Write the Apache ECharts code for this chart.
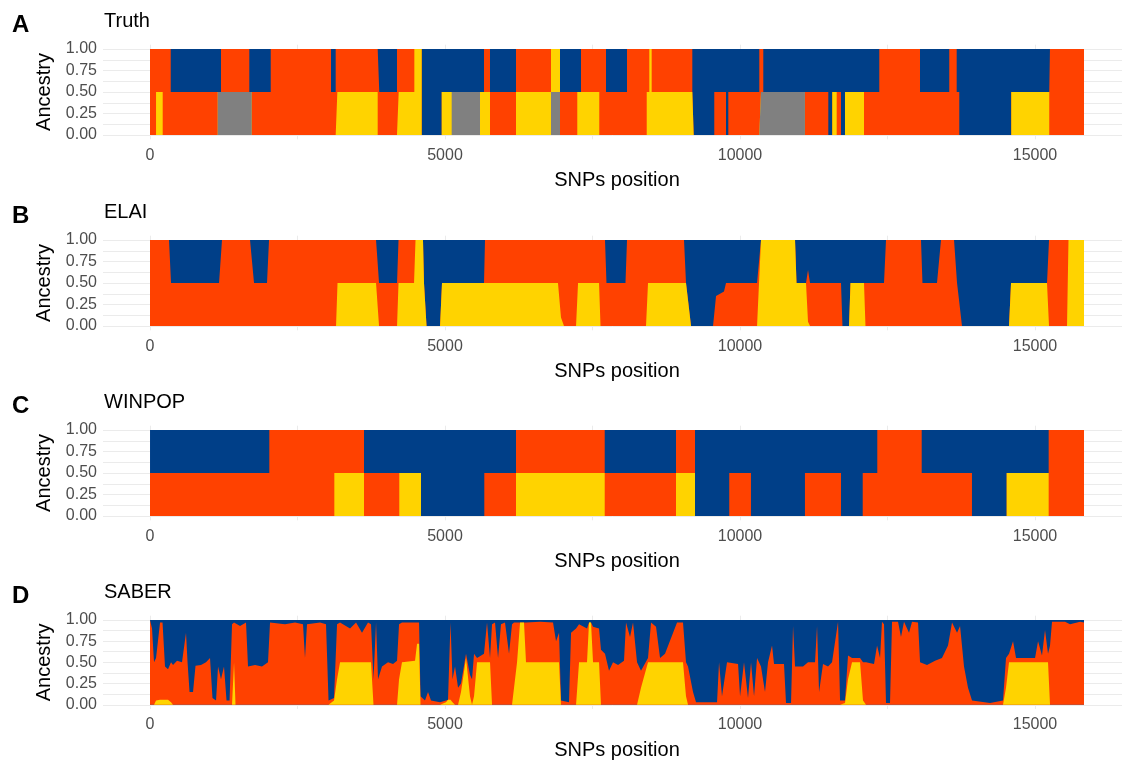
<!DOCTYPE html>
<html>
<head>
<meta charset="utf-8">
<title>Local ancestry along SNP positions</title>
<script src="https://cdn.jsdelivr.net/npm/echarts@6/dist/echarts.min.js"></script>
<style>
  html, body { margin: 0; padding: 0; background: #ffffff; }
  #chart { width: 1122px; height: 761px; }
</style>
</head>
<body>
<div id="chart"></div>
<script>
// ---------------------------------------------------------------------------
// Data
// ---------------------------------------------------------------------------
const seqEnd = 15831; // last SNP position

// Truth: two haplotype tracks, ancestry code per segment start
// codes: B = blue, R = red, Y = yellow, G = gray
const truthUpperStart = [0, 351, 1203, 1683, 2046, 3068, 3147, 3886, 4186, 4480, 4605, 5661, 5763, 6203, 6797, 6949, 7305, 7729, 8085, 8463, 8503, 9192, 10327, 10395, 12361, 13051, 13547, 13673, 15254];
const truthUpperAnc   = ['R','B','R','B','R','B','R','B','R','Y','B','R','B','R','Y','B','R','B','R','Y','R','B','R','B','R','B','R','B','R'];
const truthLowerStart = [0, 102, 215, 1147, 1724, 3175, 3859, 4215, 4605, 4944, 5113, 5593, 5763, 6203, 6797, 6949, 7242, 7615, 8419, 9215, 9564, 9763, 9802, 10356, 11101, 11497, 11564, 11639, 11712, 11780, 12102, 13717, 14598, 15242];
const truthLowerAnc   = ['R','Y','R','G','R','Y','R','Y','B','Y','G','Y','R','Y','G','R','Y','R','Y','B','R','B','R','G','R','B','Y','R','B','Y','R','B','Y','R'];

// WINPOP: two haplotype tracks
const winpopUpperStart = [0, 2022, 3627, 6203, 7707, 8915, 9237, 12327, 13080, 15232];
const winpopUpperAnc   = ['B','R','B','R','B','R','B','R','B','R'];
const winpopLowerStart = [0, 3124, 3627, 4225, 4593, 5666, 6203, 7707, 8915, 9237, 9818, 10186, 11101, 11712, 12080, 13932, 14520, 15232];
const winpopLowerAnc   = ['R','Y','R','Y','B','R','Y','R','Y','B','R','B','R','B','R','B','Y','R'];

// ELAI: estimated ancestry proportions (blue is the remainder)
const elaiPos = [0, 322, 356, 1170, 1220, 1695, 1763, 1983, 2017, 3153,
  3178, 3831, 3882, 4187, 4212, 4475, 4500, 4627, 4644, 4687,
  4916, 4949, 5661, 5678, 6915, 6966, 7017, 7221, 7255, 7611,
  7636, 7712, 7737, 8059, 8085, 8407, 8441, 9051, 9085, 9170,
  9543, 9594, 9729, 9763, 10289, 10356, 10933, 10958, 11119, 11153,
  11187, 11712, 11737, 11848, 11873, 12102, 12127, 12441, 12475, 13068,
  13093, 13339, 13407, 13628, 13679, 13713, 13763, 14560, 14594, 15204,
  15238, 15543, 15568, 15831];
const elaiYellow = [0, 0, 0, 0, 0, 0, 0, 0, 0, 0,
  0.5, 0.5, 0, 0, 0.5, 0.5, 1, 1, 0.5, 0,
  0, 0.5, 0.5, 0.5, 0.5, 0.1, 0, 0, 0.5, 0.5,
  0, 0, 0, 0, 0, 0, 0.5, 0.5, 0.5, 0,
  0, 0, 0, 0, 0, 1, 1, 0.5, 0.5, 0.05,
  0, 0, 0, 0, 0.5, 0.5, 0, 0, 0, 0,
  0, 0, 0, 0, 0, 0, 0, 0, 0.5, 0.5,
  0, 0, 1, 1];
const elaiRed = [1, 1, 0.5, 0.5, 1, 1, 0.5, 0.5, 1, 1,
  0.5, 0.5, 0.5, 0.5, 0.5, 0.5, 0, 0, 0, 0,
  0, 0, 0, 0.5, 0.5, 0.9, 1, 1, 0.5, 0.5,
  1, 1, 0.5, 0.5, 1, 1, 0.5, 0.5, 0, 0,
  0, 0.35, 0.4, 0.5, 0.5, 0, 0, 0, 0, 0.6,
  0.5, 0.5, 0, 0, 0, 0, 0.5, 0.5, 1, 1,
  0.5, 0.5, 1, 1, 0.5, 0.3, 0, 0, 0, 0,
  1, 1, 0, 0];

// SABER: estimated ancestry proportions (blue is the remainder)
const saberPos = [0, 34, 68, 102, 170, 212, 254, 305, 356, 390,
  458, 542, 610, 636, 670, 729, 771, 864, 949, 1017,
  1059, 1119, 1153, 1203, 1254, 1297, 1348, 1390, 1424, 1449,
  1526, 1627, 1661, 1780, 1898, 2000, 2034, 2288, 2458, 2593,
  2627, 2661, 2882, 2983, 3026, 3119, 3170, 3221, 3390, 3492,
  3593, 3695, 3746, 3788, 3831, 3865, 3932, 4034, 4119, 4187,
  4221, 4271, 4492, 4526, 4560, 4585, 4661, 4712, 4763, 4916,
  5017, 5051, 5093, 5127, 5170, 5221, 5271, 5356, 5424, 5458,
  5492, 5543, 5661, 5712, 5763, 5797, 5848, 5899, 5949, 6017,
  6085, 6136, 6170, 6221, 6272, 6339, 6373, 6611, 6831, 6882,
  6933, 6966, 7102, 7136, 7221, 7272, 7407, 7441, 7475, 7509,
  7611, 7644, 7712, 7780, 7848, 7933, 8034, 8068, 8136, 8187,
  8255, 8322, 8441, 8492, 8577, 8645, 8729, 8933, 9034, 9085,
  9119, 9204, 9255, 9611, 9645, 9695, 9780, 9967, 10001, 10068,
  10136, 10187, 10238, 10289, 10356, 10424, 10475, 10543, 10577, 10746,
  10780, 10865, 10899, 10933, 11068, 11153, 11272, 11306, 11340, 11407,
  11492, 11560, 11662, 11696, 11780, 11831, 11899, 12035, 12085, 12136,
  12272, 12323, 12374, 12407, 12441, 12475, 12543, 12577, 12679, 12729,
  12780, 12865, 12916, 13018, 13052, 13170, 13306, 13424, 13526, 13594,
  13679, 13730, 13797, 13865, 13933, 14238, 14458, 14509, 14560, 14628,
  14679, 15001, 15052, 15119, 15170, 15221, 15255, 15289, 15509, 15594,
  15764, 15831];
const saberYellow = [0, 0, 0, 0.05, 0.06, 0.06, 0.06, 0.06, 0.03, 0,
  0, 0, 0, 0, 0, 0, 0, 0, 0, 0,
  0, 0, 0, 0, 0, 0, 0, 0, 0.5, 0,
  0, 0, 0, 0, 0, 0, 0, 0, 0, 0,
  0, 0, 0, 0, 0, 0.05, 0.3, 0.5, 0.5, 0.5,
  0.5, 0.5, 0.5, 0, 0, 0, 0, 0, 0, 0,
  0.3, 0.5, 0.52, 0.72, 0.72, 0, 0, 0, 0, 0,
  0.03, 0.06, 0.06, 0.03, 0, 0, 0.15, 0.55, 0.1, 0,
  0.1, 0.5, 0.5, 0.5, 0.5, 0, 0, 0, 0, 0,
  0, 0, 0.2, 0.5, 0.97, 0.97, 0.5, 0.5, 0.5, 0.5,
  0.5, 0, 0, 0, 0, 0.5, 0.5, 0.97, 0.97, 0.5,
  0.5, 0, 0, 0, 0, 0, 0, 0, 0, 0,
  0, 0.2, 0.5, 0.5, 0.5, 0.5, 0.5, 0.5, 0.5, 0.1,
  0, 0, 0, 0, 0, 0, 0, 0, 0, 0,
  0, 0, 0, 0, 0, 0, 0, 0, 0, 0,
  0, 0, 0, 0, 0, 0, 0, 0, 0, 0,
  0, 0, 0, 0, 0.02, 0.3, 0.5, 0.5, 0.05, 0,
  0, 0, 0, 0, 0, 0, 0, 0, 0, 0,
  0, 0, 0, 0, 0, 0, 0, 0, 0, 0,
  0, 0, 0, 0, 0, 0, 0, 0.2, 0.5, 0.5,
  0.5, 0.5, 0.5, 0.5, 0.5, 0.5, 0, 0, 0, 0,
  0, 0];
const saberRed = [1.00, 0.90, 0.50, 0.50, 0.91, 0.91, 0.39, 0.36, 0.47, 0.47,
  0.52, 0.50, 0.85, 0.50, 0.15, 0.15, 0.46, 0.47, 0.50, 0.55,
  0.08, 0.05, 0.45, 0.30, 0.45, 0.05, 0.05, 0.95, 0.47, 0.97,
  0.93, 0.97, 0.45, 0.47, 0.45, 0.50, 0.97, 0.95, 0.97, 0.95,
  0.55, 0.95, 0.97, 0.95, 0.05, 0.03, 0.65, 0.47, 0.40, 0.47,
  0.35, 0.47, 0.45, 0.30, 0.97, 0.30, 0.45, 0.50, 0.48, 0.52,
  0.65, 0.47, 0.45, 0.25, 0.25, 0.10, 0.05, 0.15, 0.05, 0.03,
  0.02, 0.00, 0.91, 0.27, 0.45, 0.20, 0.10, 0.05, 0.25, 0.30,
  0.50, 0.05, 0.10, 0.47, 0.05, 0.95, 0.97, 0.55, 0.95, 0.97,
  0.60, 0.95, 0.77, 0.47, 0, 0, 0.47, 0.48, 0.47, 0.25,
  0.35, 0.05, 0.03, 0.85, 0.90, 0.45, 0.40, 0, 0, 0.42,
  0.40, 0.65, 0.60, 0.40, 0.50, 0.47, 0.52, 0.97, 0.80, 0.97,
  0.50, 0.20, 0.05, 0.47, 0.42, 0.05, 0.10, 0.47, 0.47, 0.40,
  0.45, 0.15, 0.03, 0.03, 0.50, 0.10, 0.50, 0.48, 0.10, 0.50,
  0.08, 0.50, 0.10, 0.55, 0.45, 0.15, 0.50, 0.70, 0.48, 0.48,
  0.02, 0.02, 0.93, 0.45, 0.45, 0.50, 0.50, 0.93, 0.15, 0.48,
  0.45, 0.50, 0.98, 0.05, 0.03, 0.28, 0.05, 0.05, 0.45, 0.50,
  0.48, 0.70, 0.55, 0.98, 0.95, 0.02, 0.02, 0.98, 0.98, 0.80,
  0.98, 0.85, 0.98, 0.97, 0.50, 0.47, 0.52, 0.55, 0.70, 0.97,
  0.85, 0.93, 0.45, 0.20, 0.05, 0.02, 0.05, 0.35, 0.10, 0.25,
  0.05, 0.05, 0.25, 0.08, 0.38, 0.10, 0.70, 0.98, 0.98, 0.95,
  0.98, 0.97];

// Axis ticks
const xTickLabels = [0, 5000, 10000, 15000];
const xGridValues = [0, 2500, 5000, 7500, 10000, 12500, 15000];
const yTickLabels = [0, 0.25, 0.5, 0.75, 1];
const yGridValues = [0, 0.125, 0.25, 0.375, 0.5, 0.625, 0.75, 0.875, 1];

// ---------------------------------------------------------------------------
// Helpers
// ---------------------------------------------------------------------------
const stackOrder = ['G', 'Y', 'R', 'B']; // bottom to top
const ancestryColor = { B: '#003F88', R: '#FF4100', Y: '#FFD300', G: '#808080' };
const ancestryName = { B: 'Blue', R: 'Red', Y: 'Yellow', G: 'Gray' };

function segmentAt(starts, codes, p) {
  let k = 0;
  for (let i = 0; i < starts.length; i++) if (starts[i] <= p) k = i;
  return codes[k];
}

// Diploid ancestry from two haplotype tracks: each haplotype contributes 0.5
function fromHaplotypes(lowStart, lowAnc, upStart, upAnc) {
  const pos = Array.from(new Set(lowStart.concat(upStart))).sort((a, b) => a - b);
  pos.push(seqEnd);
  const frac = { G: [], Y: [], R: [], B: [] };
  pos.forEach((p, i) => {
    const q = i === pos.length - 1 ? pos[i - 1] : p;
    const a = segmentAt(lowStart, lowAnc, q);
    const b = segmentAt(upStart, upAnc, q);
    stackOrder.forEach(c => frac[c].push((a === c ? 0.5 : 0) + (b === c ? 0.5 : 0)));
  });
  return { pos, frac };
}

function fromProportions(pos, yellow, red) {
  return {
    pos,
    frac: {
      G: pos.map(() => 0),
      Y: yellow,
      R: red,
      B: pos.map((_, i) => Math.max(0, 1 - yellow[i] - red[i]))
    }
  };
}

const panels = [
  Object.assign({ tag: 'A', title: 'Truth', top: 49, step: 'end' },
    fromHaplotypes(truthLowerStart, truthLowerAnc, truthUpperStart, truthUpperAnc)),
  Object.assign({ tag: 'B', title: 'ELAI', top: 240, step: false },
    fromProportions(elaiPos, elaiYellow, elaiRed)),
  Object.assign({ tag: 'C', title: 'WINPOP', top: 430, step: 'end' },
    fromHaplotypes(winpopLowerStart, winpopLowerAnc, winpopUpperStart, winpopUpperAnc)),
  Object.assign({ tag: 'D', title: 'SABER', top: 620, step: false },
    fromProportions(saberPos, saberYellow, saberRed))
];

// ---------------------------------------------------------------------------
// Chart
// ---------------------------------------------------------------------------
const FONT = '"Liberation Sans", Arial, Helvetica, sans-serif';
const unitH = 86;          // pixel height of ancestry 0 -> 1
const pad = 0.05;          // vertical expansion of each panel
const xMin = -797, xMax = 16475;

const grids = [], xAxes = [], yAxes = [], series = [], graphics = [];

panels.forEach((pnl, i) => {
  grids.push({
    left: 103,
    right: 0,
    top: pnl.top - pad * unitH,
    height: unitH * (1 + 2 * pad)
  });

  xAxes.push({
    type: 'value', gridIndex: i, min: xMin, max: xMax,
    name: 'SNPs position', nameLocation: 'middle', nameGap: 31,
    nameTextStyle: { fontSize: 20, color: '#000', fontFamily: FONT, padding: [0, 0, 0, 9] },
    axisLine: { show: false, onZero: false },
    axisTick: { show: false, customValues: xGridValues },
    axisLabel: {
      customValues: xTickLabels, fontSize: 16, color: '#4D4D4D', fontFamily: FONT, margin: 8,
      formatter: v => String(Math.round(v))
    },
    splitLine: { show: true, lineStyle: { color: '#EBEBEB', width: 1 } }
  });

  yAxes.push({
    type: 'value', gridIndex: i, min: -pad, max: 1 + pad,
    name: 'Ancestry', nameLocation: 'middle', nameGap: 48, nameRotate: 90,
    nameTextStyle: { fontSize: 20, color: '#000', fontFamily: FONT },
    axisLine: { show: false },
    axisTick: { show: false, customValues: yGridValues },
    axisLabel: {
      customValues: yTickLabels, fontSize: 16, color: '#4D4D4D', fontFamily: FONT, margin: 6,
      formatter: v => Number(v).toFixed(2)
    },
    splitLine: { show: true, lineStyle: { color: '#EBEBEB', width: 1 } }
  });

  // cumulative levels, bottom to top; drawn top-first so lower layers cover
  const levels = {};
  let acc = pnl.pos.map(() => 0);
  stackOrder.forEach(c => {
    acc = acc.map((v, k) => v + pnl.frac[c][k]);
    levels[c] = acc.slice();
  });
  stackOrder.slice().reverse().forEach(c => {
    series.push({
      type: 'line',
      name: ancestryName[c],
      xAxisIndex: i, yAxisIndex: i,
      data: pnl.pos.map((p, k) => [p, levels[c][k]]),
      step: pnl.step,
      symbol: 'none', showSymbol: false, silent: true,
      lineStyle: { width: 0, opacity: 0 },
      areaStyle: { color: ancestryColor[c], opacity: 1, origin: 'auto' },
      animation: false
    });
  });

  graphics.push({
    type: 'text', x: 12, y: pnl.top - 24,
    style: { text: pnl.tag, font: 'bold 24px ' + FONT, fill: '#000',
             verticalAlign: 'middle', textVerticalAlign: 'middle' }
  });
  graphics.push({
    type: 'text', x: 104, y: pnl.top - 28,
    style: { text: pnl.title, font: '20px ' + FONT, fill: '#000',
             verticalAlign: 'middle', textVerticalAlign: 'middle' }
  });
});

const chart = echarts.init(document.getElementById('chart'), null, { renderer: 'canvas' });
chart.setOption({
  backgroundColor: '#ffffff',
  animation: false,
  grid: grids,
  xAxis: xAxes,
  yAxis: yAxes,
  series: series,
  graphic: graphics
});
</script>
</body>
</html>
